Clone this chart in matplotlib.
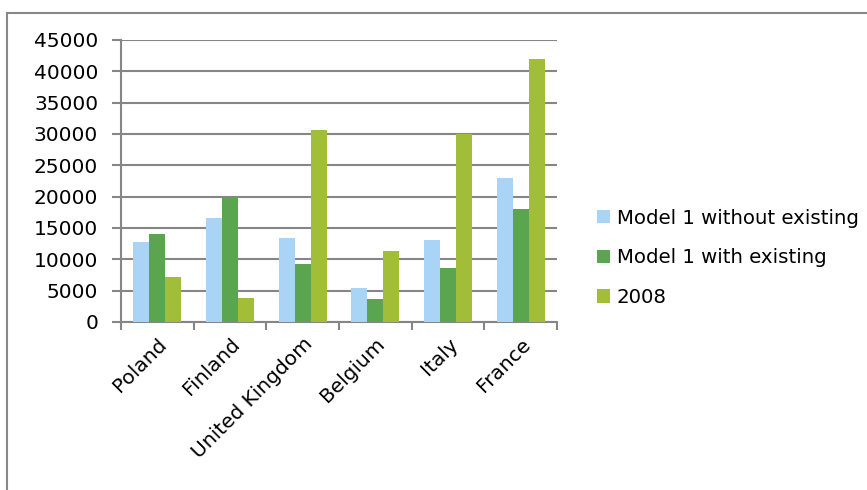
import numpy as np
import matplotlib.pyplot as plt
from matplotlib.patches import Rectangle

countries = ['Poland', 'Finland', 'United Kingdom', 'Belgium', 'Italy', 'France']
without_existing = [12800, 16600, 13400, 5400, 13100, 22900]
with_existing = [14000, 19900, 9250, 3600, 8650, 18100]
year_2008 = [7200, 3900, 30700, 11350, 30000, 41900]

series = [
    ('Model 1 without existing', without_existing, '#A9D4F5'),
    ('Model 1 with existing', with_existing, '#5BA550'),
    ('2008', year_2008, '#A2BD37'),
]

fig = plt.figure(figsize=(8.67, 4.90), dpi=100)
ax = fig.add_axes([0.1396, 0.3429, 0.5028, 0.5755])

x = np.arange(len(countries))
w = 0.22
for i, (name, vals, col) in enumerate(series):
    ax.bar(x + (i - 1) * w, vals, width=w, color=col, label=name,
           linewidth=0, zorder=3)

grid_col = '#868686'
ax.set_ylim(0, 45000)
ax.set_yticks(range(0, 45001, 5000))
ax.set_xlim(-0.5, len(countries) - 0.5)
ax.yaxis.grid(True, color=grid_col, linewidth=1.5, zorder=0)
ax.set_axisbelow(True)

for s in ['top', 'right']:
    ax.spines[s].set_visible(False)
for s in ['left', 'bottom']:
    ax.spines[s].set_color(grid_col)
    ax.spines[s].set_linewidth(1.5)

ax.set_xticks(x)
ax.set_xticklabels(countries, rotation=45, ha='right', rotation_mode='anchor',
                   fontsize=14.5)
ax.tick_params(axis='x', length=0, pad=9)
ax.set_xticks(np.arange(-0.5, len(countries)), minor=True)
ax.tick_params(axis='x', which='minor', length=6, width=1.5, color=grid_col)
ax.tick_params(axis='y', length=6.5, width=1.5, color=grid_col, labelsize=14.5, pad=10)

ax.legend(loc='center left', bbox_to_anchor=(0.668, 0.474), bbox_transform=fig.transFigure,
          frameon=False, fontsize=14.2, handlelength=0.65, handleheight=0.65,
          handletextpad=0.35, labelspacing=1.05)

fig.patches.append(Rectangle((0.008, -0.05), 1.1, 0.05 + 1 - 13 / 490,
                             transform=fig.transFigure, fill=False,
                             edgecolor='#888888', linewidth=1.5))

fig.savefig('out.png', dpi=100)
